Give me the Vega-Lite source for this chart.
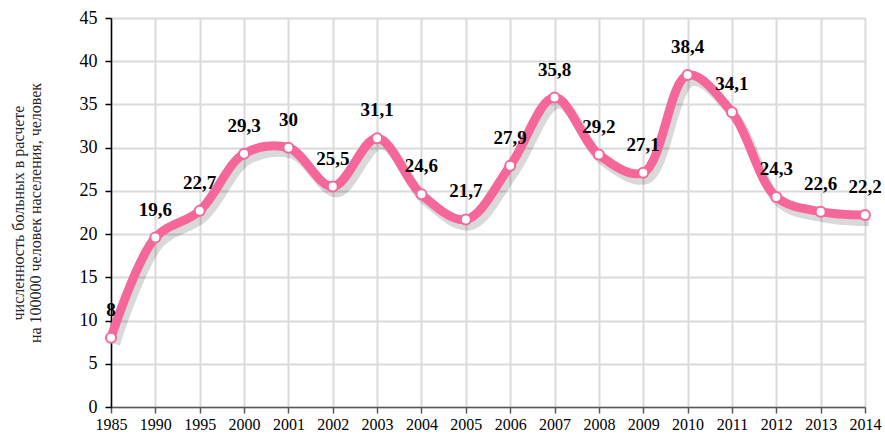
{
  "$schema": "https://vega.github.io/schema/vega-lite/v6.json",
  "width": 754,
  "height": 389,
  "autosize": "none",
  "padding": {"left": 111, "top": 18, "right": 20, "bottom": 27},
  "background": "white",
  "data": {
    "values": [
      {"year": "1985", "value": 8},
      {"year": "1990", "value": 19.6},
      {"year": "1995", "value": 22.7},
      {"year": "2000", "value": 29.3},
      {"year": "2001", "value": 30},
      {"year": "2002", "value": 25.5},
      {"year": "2003", "value": 31.1},
      {"year": "2004", "value": 24.6},
      {"year": "2005", "value": 21.7},
      {"year": "2006", "value": 27.9},
      {"year": "2007", "value": 35.8},
      {"year": "2008", "value": 29.2},
      {"year": "2009", "value": 27.1},
      {"year": "2010", "value": 38.4},
      {"year": "2011", "value": 34.1},
      {"year": "2012", "value": 24.3},
      {"year": "2013", "value": 22.6},
      {"year": "2014", "value": 22.2}
    ]
  },
  "transform": [
    {"calculate": "replace(toString(datum.value), '.', ',')", "as": "label"}
  ],
  "encoding": {
    "x": {
      "field": "year",
      "type": "ordinal",
      "sort": null,
      "scale": {"type": "point", "padding": 0},
      "axis": {
        "title": null,
        "labelAngle": 0,
        "labelFont": "Liberation Serif",
        "labelFontSize": 16,
        "labelColor": "black",
        "labelPadding": 3,
        "domainColor": "#595959",
        "domainWidth": 1.5,
        "tickColor": "#595959",
        "tickWidth": 1.5,
        "tickSize": 6,
        "grid": true,
        "gridColor": "#DADADA",
        "gridWidth": 2
      }
    },
    "y": {
      "field": "value",
      "type": "quantitative",
      "scale": {"domain": [0, 45], "nice": false},
      "axis": {
        "values": [0, 5, 10, 15, 20, 25, 30, 35, 40, 45],
        "title": ["численность больных в расчете", "на 100000 человек населения, человек"],
        "titleFont": "Liberation Serif",
        "titleFontSize": 16,
        "titleLineHeight": 17,
        "titleFontWeight": "normal",
        "titleColor": "#262626",
        "titlePadding": 36,
        "labelFont": "Liberation Serif",
        "labelFontSize": 18,
        "labelColor": "black",
        "labelPadding": 8,
        "domainColor": "black",
        "domainWidth": 1.5,
        "tickColor": "black",
        "tickWidth": 1.5,
        "tickSize": 6,
        "grid": true,
        "gridColor": "#DADADA",
        "gridWidth": 2
      }
    }
  },
  "layer": [
    {
      "mark": {"type": "line", "interpolate": "catmull-rom", "color": "#000000", "opacity": 0.15, "strokeWidth": 10, "xOffset": 4, "yOffset": 6},
      "encoding": {}
    },
    {
      "mark": {"type": "line", "interpolate": "catmull-rom", "color": "#F5679B", "strokeWidth": 9, "strokeCap": "round"},
      "encoding": {}
    },
    {
      "mark": {"type": "point", "filled": true, "fill": "white", "stroke": "#F5679B", "strokeWidth": 2, "size": 100, "opacity": 1},
      "encoding": {}
    },
    {
      "mark": {"type": "text", "font": "Liberation Serif", "fontSize": 19, "fontWeight": "bold", "color": "black", "baseline": "middle", "dy": -28},
      "encoding": {"text": {"field": "label"}}
    }
  ]
}
